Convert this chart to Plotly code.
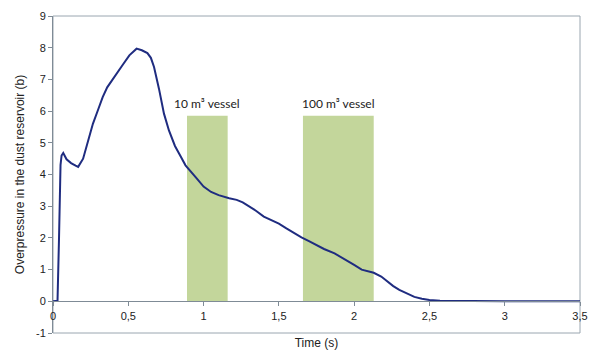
import plotly.graph_objects as go

# Pressure trace in the dust reservoir
time_s = [0.0, 0.03, 0.04, 0.05, 0.057, 0.068, 0.09, 0.12, 0.15, 0.167, 0.20, 0.23, 0.265,
          0.30, 0.33, 0.36, 0.397, 0.43, 0.46, 0.507, 0.53, 0.555, 0.59, 0.627, 0.65, 0.671,
          0.704, 0.737, 0.77, 0.81, 0.85, 0.88, 0.95, 1.00, 1.05, 1.10, 1.17, 1.22, 1.26,
          1.30, 1.35, 1.40, 1.45, 1.50, 1.55, 1.60, 1.65, 1.70, 1.75, 1.80, 1.87, 1.95, 2.00,
          2.05, 2.10, 2.13, 2.18, 2.22, 2.26, 2.30, 2.35, 2.40, 2.45, 2.50, 2.57, 2.70, 3.00,
          3.50]
pressure_b = [0.0, 0.02, 2.0, 4.3, 4.6, 4.68, 4.48, 4.36, 4.28, 4.24, 4.5, 5.05, 5.6,
              6.05, 6.44, 6.75, 7.02, 7.25, 7.44, 7.76, 7.86, 7.97, 7.92, 7.83, 7.68, 7.39,
              6.7, 5.92, 5.39, 4.9, 4.55, 4.29, 3.9, 3.62, 3.45, 3.35, 3.25, 3.2, 3.12,
              3.0, 2.85, 2.67, 2.55, 2.45, 2.3, 2.15, 2.02, 1.9, 1.78, 1.65, 1.51, 1.3, 1.15,
              1.0, 0.93, 0.9, 0.78, 0.62, 0.48, 0.36, 0.24, 0.14, 0.08, 0.04, 0.02, 0.01, 0.0,
              0.0]

# Time windows of the two vessels
vessel_labels = ["10 m\u00b3 vessel", "100 m\u00b3 vessel"]
vessel_start = [0.89, 1.66]
vessel_end = [1.16, 2.13]
vessel_top = [5.85, 5.85]

x_ticks = [0, 0.5, 1, 1.5, 2, 2.5, 3, 3.5]
x_tick_text = ["0", "0,5", "1", "1,5", "2", "2,5", "3", "3,5"]
y_ticks = list(range(-1, 10))
y_tick_text = ["-1"] + [str(v) for v in range(0, 10)]

fig = go.Figure()

for x0, x1, top in zip(vessel_start, vessel_end, vessel_top):
    fig.add_shape(type="rect", xref="x", yref="y", x0=x0, x1=x1, y0=0, y1=top,
                  fillcolor="#c3d69b", line_width=0, layer="below")

for label, x0, x1, top in zip(vessel_labels, vessel_start, vessel_end, vessel_top):
    fig.add_annotation(x=(x0 + x1) / 2, y=top, text=label, showarrow=False,
                       yanchor="bottom", yshift=3,
                       font=dict(family="Lato", size=12, color="#222222"))

fig.add_trace(go.Scatter(x=time_s, y=pressure_b, mode="lines",
                         line=dict(color="#1f2c80", width=2), showlegend=False))

# outer frame of the plot area
fig.add_shape(type="rect", xref="paper", yref="paper", x0=0, x1=1, y0=0, y1=1,
              line=dict(color="#9aa6b0", width=1), layer="below")

tick_font = dict(family="Liberation Sans", size=11, color="#222222")
title_font = dict(family="Liberation Sans", size=12, color="#222222")

fig.update_layout(
    width=590, height=356,
    margin=dict(l=53, r=10, t=16, b=23),
    plot_bgcolor="white", paper_bgcolor="white",
    xaxis=dict(range=[0, 3.5], tickvals=x_ticks, ticktext=x_tick_text,
               anchor="free", position=0.1, showline=True, linecolor="#7f8b96", linewidth=1,
               ticks="outside", ticklen=4, tickcolor="#7f8b96", showgrid=False, zeroline=False,
               tickfont=tick_font, automargin=False, ticklabeloverflow="allow",
               title=dict(text="Time (s)", font=title_font, standoff=18)),
    yaxis=dict(range=[-1, 9], tickvals=y_ticks, ticktext=y_tick_text,
               showline=True, linecolor="#7f8b96", linewidth=1,
               ticks="outside", ticklen=4, tickcolor="#7f8b96", showgrid=False, zeroline=False,
               tickfont=tick_font, automargin=False, ticklabeloverflow="allow",
               title=dict(text="Overpressure in the dust reservoir (b)",
                          font=title_font, standoff=8)),
)

fig.write_html("out.html")
